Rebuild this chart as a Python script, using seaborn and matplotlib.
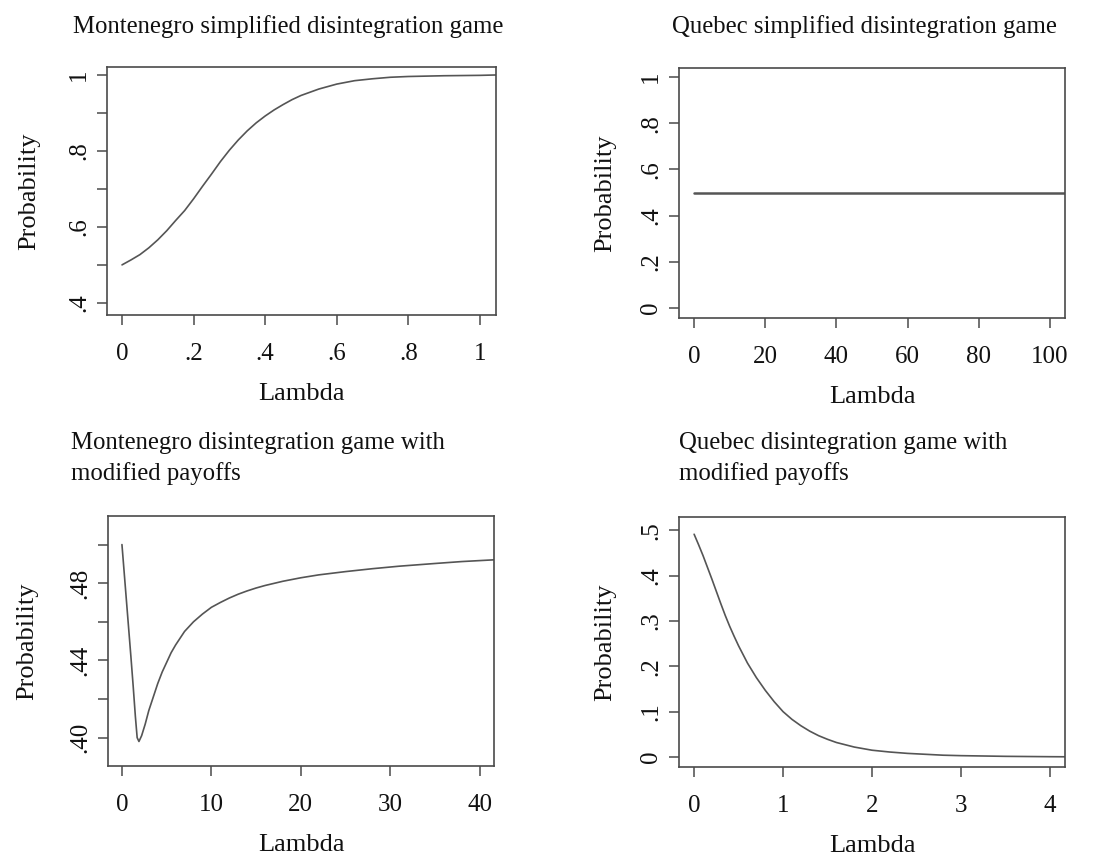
import matplotlib
matplotlib.use("Agg")
import matplotlib.pyplot as plt
import seaborn as sns
import pandas as pd

# ---------------- data ----------------
mne_simple_lambda = [0, 0.025, 0.05, 0.075, 0.1, 0.125, 0.15, 0.175, 0.2, 0.225, 0.25,
                     0.275, 0.3, 0.325, 0.35, 0.375, 0.4, 0.425, 0.45, 0.475, 0.5, 0.55,
                     0.6, 0.65, 0.7, 0.75, 0.8, 0.9, 1.0, 1.045]
mne_simple_prob = [0.500, 0.513, 0.527, 0.545, 0.566, 0.590, 0.617, 0.643, 0.674, 0.707,
                   0.739, 0.772, 0.802, 0.829, 0.853, 0.874, 0.892, 0.908, 0.922, 0.935,
                   0.946, 0.963, 0.976, 0.985, 0.990, 0.994, 0.996, 0.998, 0.999, 1.0]

que_simple_lambda = [0, 104.2]
que_simple_prob = [0.5, 0.5]

mne_mod_lambda = [0, 0.5, 1.0, 1.25, 1.5, 1.7, 1.9, 2.2, 2.6, 3, 3.5, 4, 4.5, 5, 5.5,
                  6, 7, 8, 9, 10, 11, 12, 13, 14, 15, 16, 18, 20, 22, 25, 28, 31, 35,
                  38, 41.6]
mne_mod_prob = [0.500, 0.471, 0.442, 0.427, 0.411, 0.400, 0.398, 0.401, 0.407, 0.414,
                0.421, 0.428, 0.434, 0.439, 0.444, 0.448, 0.455, 0.460, 0.464, 0.4675,
                0.470, 0.4723, 0.4743, 0.476, 0.4775, 0.4788, 0.481, 0.4828, 0.4843,
                0.486, 0.4875, 0.4888, 0.4902, 0.4912, 0.4921]

que_mod_lambda = [0, 0.05, 0.1, 0.15, 0.2, 0.25, 0.3, 0.35, 0.4, 0.45, 0.5, 0.6, 0.7,
                  0.8, 0.9, 1.0, 1.1, 1.2, 1.3, 1.4, 1.5, 1.6, 1.8, 2.0, 2.2, 2.4, 2.6,
                  2.8, 3.0, 3.5, 4.0, 4.17]
que_mod_prob = [0.491, 0.468, 0.444, 0.418, 0.392, 0.365, 0.338, 0.312, 0.288, 0.266,
                0.245, 0.207, 0.175, 0.147, 0.122, 0.100, 0.083, 0.069, 0.057, 0.047,
                0.039, 0.032, 0.022, 0.015, 0.011, 0.008, 0.006, 0.004, 0.003, 0.0015,
                0.0007, 0.0005]

titles = ["Montenegro simplified disintegration game",
          "Quebec simplified disintegration game",
          "Montenegro disintegration game with\nmodified payoffs",
          "Quebec disintegration game with\nmodified payoffs"]
x_label = "Lambda"
y_label = "Probability"

p1_xticks = [0, 0.2, 0.4, 0.6, 0.8, 1.0]
p1_xlabels = ["0", ".2", ".4", ".6", ".8", "1"]
p1_yticks = [0.4, 0.5, 0.6, 0.7, 0.8, 0.9, 1.0]
p1_ylabels = [".4", "", ".6", "", ".8", "", "1"]

p2_xticks = [0, 20, 40, 60, 80, 100]
p2_xlabels = ["0", "20", "40", "60", "80", "100"]
p2_yticks = [0, 0.2, 0.4, 0.6, 0.8, 1.0]
p2_ylabels = ["0", ".2", ".4", ".6", ".8", "1"]

p3_xticks = [0, 10, 20, 30, 40]
p3_xlabels = ["0", "10", "20", "30", "40"]
p3_yticks = [0.40, 0.42, 0.44, 0.46, 0.48, 0.50]
p3_ylabels = [".40", "", ".44", "", ".48", ""]

p4_xticks = [0, 1, 2, 3, 4]
p4_xlabels = ["0", "1", "2", "3", "4"]
p4_yticks = [0, 0.1, 0.2, 0.3, 0.4, 0.5]
p4_ylabels = ["0", ".1", ".2", ".3", ".4", ".5"]

# ---------------- style ----------------
sns.set_theme(style="ticks")
plt.rcParams['font.family'] = ['Liberation Serif', 'DejaVu Serif']
plt.rcParams['text.color'] = '#111111'
plt.rcParams['axes.labelcolor'] = '#111111'
plt.rcParams['xtick.color'] = '#4a4a4a'
plt.rcParams['ytick.color'] = '#4a4a4a'
plt.rcParams['xtick.labelcolor'] = '#111111'
plt.rcParams['ytick.labelcolor'] = '#111111'

W, H = 1103, 856
fig = plt.figure(figsize=(W / 100, H / 100), dpi=100)
fig.patch.set_facecolor("white")

LINE_C = "#555555"
FRAME_C = "#4a4a4a"
TICK_FS = 18
LAB_FS = 19
TITLE_FS = 17.8


def make_ax(l, t, r, b):
    return fig.add_axes([l / W, 1 - b / H, (r - l) / W, (b - t) / H])


panels = [
    dict(box=(107, 67, 496, 315), x=mne_simple_lambda, y=mne_simple_prob,
         xlim=(-0.042, 1.045), ylim=(0.368, 1.021), lw=1.2, ylp=20,
         xt=p1_xticks, xl=p1_xlabels, yt=p1_yticks, yl=p1_ylabels,
         title=titles[0], tpos=(73, 33)),
    dict(box=(679, 68, 1065, 318), x=que_simple_lambda, y=que_simple_prob,
         xlim=(-4.2, 104.2), ylim=(-0.043, 1.039), lw=1.8, ylp=17.5,
         xt=p2_xticks, xl=p2_xlabels, yt=p2_yticks, yl=p2_ylabels,
         title=titles[1], tpos=(672, 33)),
    dict(box=(108, 516, 494, 766), x=mne_mod_lambda, y=mne_mod_prob,
         xlim=(-1.56, 41.6), ylim=(0.3853, 0.5148), lw=1.2, ylp=22,
         xt=p3_xticks, xl=p3_xlabels, yt=p3_yticks, yl=p3_ylabels,
         title=titles[2], tpos=(71, 480)),
    dict(box=(679, 517, 1065, 767), x=que_mod_lambda, y=que_mod_prob,
         xlim=(-0.17, 4.17), ylim=(-0.022, 0.529), lw=1.2, ylp=17.5,
         xt=p4_xticks, xl=p4_xlabels, yt=p4_yticks, yl=p4_ylabels,
         title=titles[3], tpos=(679, 480)),
]

for p in panels:
    ax = make_ax(*p["box"])
    df = pd.DataFrame({"Lambda": p["x"], "Probability": p["y"]})
    sns.lineplot(data=df, x="Lambda", y="Probability", ax=ax, color=LINE_C,
                 linewidth=p["lw"])
    ax.set_xlim(*p["xlim"])
    ax.set_ylim(*p["ylim"])
    ax.set_xticks(p["xt"])
    ax.set_xticklabels(p["xl"])
    ax.set_yticks(p["yt"])
    ax.set_yticklabels(p["yl"], rotation=90, va="center")
    ax.tick_params(axis="both", direction="out", length=7.2, width=1.1,
                   labelsize=TICK_FS)
    ax.tick_params(axis="x", pad=13)
    ax.tick_params(axis="y", pad=5)
    ax.set_xlabel(x_label, fontsize=LAB_FS, labelpad=13)
    ax.set_ylabel(y_label, fontsize=LAB_FS, labelpad=p["ylp"])
    for s in ax.spines.values():
        s.set_visible(True)
        s.set_color(FRAME_C)
        s.set_linewidth(1.2)
    ax.set_facecolor("white")
    fig.text(p["tpos"][0] / W, 1 - p["tpos"][1] / H, p["title"], fontsize=TITLE_FS,
             ha="left", va="baseline", linespacing=1.43)

fig.savefig("out.png", dpi=100, facecolor="white")
